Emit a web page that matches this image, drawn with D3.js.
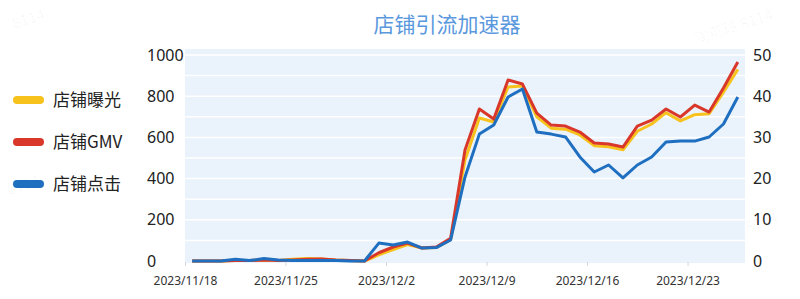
<!DOCTYPE html>
<html>
<head>
<meta charset="utf-8">
<script src="https://cdn.jsdelivr.net/npm/d3@7/dist/d3.min.js"></script>
<style>
  body { margin: 0; background: #fff; }
  svg { display: block; font-family: "Noto Sans CJK SC", "Noto Sans", sans-serif; }
</style>
</head>
<body>
<div id="chart"></div>
<script>
// daily data, 2023/11/18 .. 2023/12/26
let startDate = new Date(2023, 10, 18);
let dayCount = 39;
let dates = d3.range(dayCount).map(i => d3.timeDay.offset(startDate, i));

let exposure = [0, 0, 0, 3, 2, 5, 3, 8, 12, 10, 5, 2, 0, 30, 55, 80, 63, 65, 105, 490, 694, 675, 845, 850,
                700, 645, 640, 612, 560, 555, 540, 630, 665, 720, 680, 710, 715, 820, 930];
let gmv = [0, 0, 0, 3, 2, 5, 3, 5, 8, 10, 5, 2, 0, 40, 68, 87, 63, 68, 110, 539, 738, 689, 879, 859,
           718, 660, 655, 626, 573, 568, 553, 655, 684, 738, 699, 757, 723, 840, 966];
// clicks use the right axis
let clicks = [0, 0, 0, 0.4, 0.1, 0.6, 0.25, 0.15, 0.1, 0.15, 0.1, 0, 0, 4.35, 3.9, 4.6, 3.15, 3.25, 5.1, 20.4,
              30.8, 33, 39.8, 41.75, 31.3, 30.8, 30.1, 25.25, 21.6, 23.3, 20.15, 23.3, 25.25, 28.9, 29.1, 29.1,
              30.1, 33.25, 39.8];

let leftTicks = [0, 200, 400, 600, 800, 1000];
let rightTicks = [0, 10, 20, 30, 40, 50];
let xTickDates = [new Date(2023, 10, 18), new Date(2023, 10, 25), new Date(2023, 11, 2),
                  new Date(2023, 11, 9), new Date(2023, 11, 16), new Date(2023, 11, 23)];

let seriesNames = ['店铺曝光', '店铺GMV', '店铺点击'];
let seriesColors = ['#f7c21c', '#d8372a', '#1f6fc0'];

let width = 800, height = 299;
let svg = d3.select('#chart').append('svg').attr('width', width).attr('height', height);

let xScale = d3.scaleTime()
  .domain([startDate, d3.timeDay.offset(startDate, dayCount)])
  .range([185, 745]);
let yLeft = d3.scaleLinear().domain([0, 1000]).range([261, 55]);
let yRight = d3.scaleLinear().domain([0, 50]).range([261, 55]);

// faint watermarks
let marks = [[30, 24, '8114'], [735, 32, '陶燕玲 8114'], [345, 235, '陶燕玲 8114'],
             [740, 235, '陶燕玲 8114'], [25, 190, '8114'], [440, 75, '陶燕玲 8114']];
svg.selectAll('.wm').data(marks).enter().append('text')
  .attr('class', 'wm')
  .attr('transform', d => 'translate(' + d[0] + ',' + d[1] + ') rotate(-18)')
  .attr('text-anchor', 'middle')
  .attr('font-size', 15)
  .attr('fill', '#000')
  .attr('fill-opacity', 0.035)
  .text(d => d[2]);

// title
svg.append('text')
  .attr('x', 447).attr('y', 32)
  .attr('text-anchor', 'middle')
  .attr('font-size', 21)
  .attr('fill', '#5a98de')
  .text('店铺引流加速器');

// plot background
svg.append('rect')
  .attr('x', xScale.range()[0]).attr('y', 49)
  .attr('width', xScale.range()[1] - xScale.range()[0])
  .attr('height', 214)
  .attr('fill', '#eaf2fb');

// white grid lines every 100
svg.selectAll('.grid').data(d3.range(100, 1001, 100)).enter().append('line')
  .attr('class', 'grid')
  .attr('x1', xScale.range()[0]).attr('x2', xScale.range()[1])
  .attr('y1', d => yLeft(d)).attr('y2', d => yLeft(d))
  .attr('stroke', '#fff').attr('stroke-width', 1.5);

// left axis
let leftAxis = svg.append('g').attr('transform', 'translate(147,0)')
  .call(d3.axisRight(yLeft).tickValues(leftTicks).tickSize(0).tickPadding(0).tickFormat(d3.format('d')));
leftAxis.select('.domain').remove();
leftAxis.selectAll('text').attr('font-size', 16).attr('fill', '#222')
  .attr('font-family', 'Noto Sans, sans-serif');

// right axis
let rightAxis = svg.append('g').attr('transform', 'translate(753,0)')
  .call(d3.axisRight(yRight).tickValues(rightTicks).tickSize(0).tickPadding(0));
rightAxis.select('.domain').remove();
rightAxis.selectAll('text').attr('font-size', 16).attr('fill', '#222')
  .attr('font-family', 'Noto Sans, sans-serif');

// x axis
let xAxis = svg.append('g').attr('transform', 'translate(0,262)')
  .call(d3.axisBottom(xScale).tickValues(xTickDates).tickSize(4).tickPadding(10)
    .tickFormat(d3.timeFormat('%Y/%-m/%-d')));
xAxis.select('.domain').remove();
xAxis.selectAll('line').attr('stroke', '#cfd8e3');
xAxis.selectAll('text').attr('font-size', 12).attr('fill', '#333')
  .attr('font-family', 'Noto Sans, sans-serif');

// lines, points sit in the middle of each day
let xMid = d => xScale(d3.timeHour.offset(d, 12));
let series = [
  {values: exposure, y: yLeft, color: seriesColors[0]},
  {values: gmv, y: yLeft, color: seriesColors[1]},
  {values: clicks, y: yRight, color: seriesColors[2]}
];
series.forEach(s => {
  let line = d3.line().x((d, i) => xMid(dates[i])).y(d => s.y(d));
  svg.append('path')
    .datum(s.values)
    .attr('d', line)
    .attr('fill', 'none')
    .attr('stroke', s.color)
    .attr('stroke-width', 3)
    .attr('stroke-linejoin', 'round');
});

// legend
let legend = svg.selectAll('.legend').data(seriesNames).enter().append('g')
  .attr('class', 'legend')
  .attr('transform', (d, i) => 'translate(0,' + (100 + i * 42) + ')');
legend.append('line')
  .attr('x1', 17).attr('x2', 40).attr('y1', 0).attr('y2', 0)
  .attr('stroke', (d, i) => seriesColors[i])
  .attr('stroke-width', 8).attr('stroke-linecap', 'round');
legend.append('text')
  .attr('x', 53).attr('y', 0).attr('dy', '0.35em')
  .attr('font-size', 17).attr('fill', '#222')
  .text(d => d);
</script>
</body>
</html>
